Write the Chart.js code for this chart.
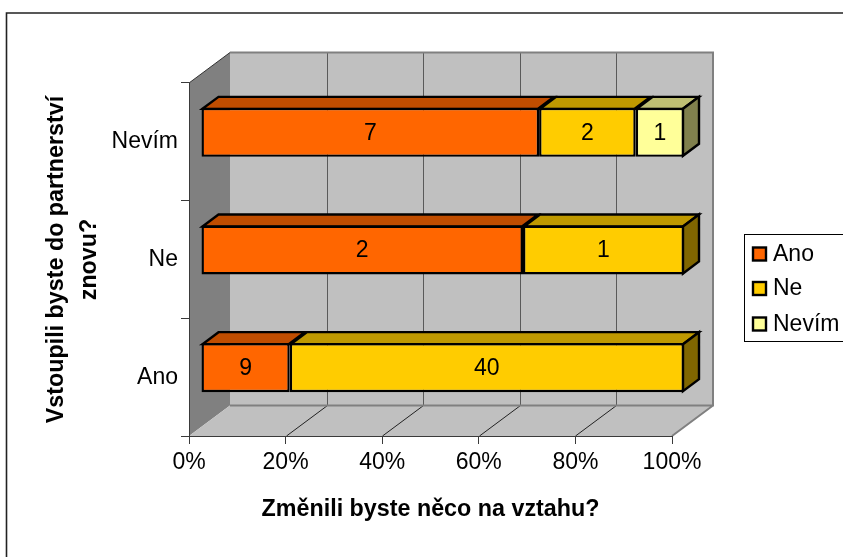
<!DOCTYPE html>
<html><head><meta charset="utf-8">
<style>html,body{margin:0;padding:0;background:#fff}canvas{display:block}</style>
<script src="https://cdn.jsdelivr.net/npm/chart.js@4"></script>
</head><body><canvas id="c" width="843" height="557"></canvas>
<script>
const categories = ['Ano','Ne','Nevím'];
const anoCounts = [9,2,7];
const neCounts = [40,1,2];
const nevimCounts = [0,0,1];
const seriesNames = ['Ano','Ne','Nevím'];
const xTitle = 'Změnili byste něco na vztahu?';
const yTitle = ['Vstoupili byste do partnerství','znovu?'];

const FONT = '"Liberation Sans", Arial, sans-serif';
const AX = '#3a3a3a';
const totals = categories.map((_,i)=>anoCounts[i]+neCounts[i]+nevimCounts[i]);
const share = arr => arr.map((v,i)=> v ? v/totals[i]*100 : null);
const WALL = {dx:41, dy:30.5};
const BAR = {ox:12, oy:9.5, dx:16, dy:12};

function poly(ctx, pts, fill, stroke, lw){
  ctx.beginPath();
  pts.forEach((p,i)=> i?ctx.lineTo(p[0],p[1]):ctx.moveTo(p[0],p[1]));
  ctx.closePath();
  if(fill){ctx.fillStyle=fill;ctx.fill();}
  if(stroke){ctx.strokeStyle=stroke;ctx.lineWidth=lw;ctx.lineJoin='miter';ctx.stroke();}
}
const box3d = {
  id:'box3d',
  beforeDraw(chart){
    const {ctx,chartArea:a,scales:{x}} = chart;
    const {dx,dy} = WALL;
    ctx.save();
    ctx.fillStyle='#fff';ctx.fillRect(0,0,chart.width,chart.height);
    ctx.strokeStyle='#222';ctx.lineWidth=1.6;
    ctx.beginPath();ctx.moveTo(6.5,557);ctx.lineTo(6.5,13);ctx.lineTo(843,13);ctx.stroke();
    poly(ctx,[[a.left,a.top],[a.left+dx,a.top-dy],[a.left+dx,a.bottom-dy],[a.left,a.bottom]],'#808080');
    poly(ctx,[[a.left+dx,a.top-dy],[a.right+dx,a.top-dy],[a.right+dx,a.bottom-dy],[a.left+dx,a.bottom-dy]],'#c0c0c0');
    poly(ctx,[[a.left,a.bottom],[a.left+dx,a.bottom-dy],[a.right+dx,a.bottom-dy],[a.right,a.bottom]],'#c0c0c0');
    [20,40,60,80].forEach(t=>{
      const px=Math.round(x.getPixelForValue(t))+0.5;
      ctx.strokeStyle='#5a5a5a';ctx.lineWidth=1;
      ctx.beginPath();ctx.moveTo(px+dx,a.top-dy);ctx.lineTo(px+dx,a.bottom-dy);ctx.stroke();
      ctx.strokeStyle='#222';
      ctx.beginPath();ctx.moveTo(px,a.bottom);ctx.lineTo(px+dx,a.bottom-dy);ctx.stroke();
    });
    ctx.strokeStyle='#808080';ctx.lineWidth=2;
    ctx.beginPath();
    ctx.moveTo(a.left+dx,a.top-dy);ctx.lineTo(a.right+dx,a.top-dy);ctx.lineTo(a.right+dx,a.bottom-dy);ctx.lineTo(a.left+dx,a.bottom-dy);
    ctx.moveTo(a.right+dx,a.bottom-dy);ctx.lineTo(a.right,a.bottom);
    ctx.stroke();
    ctx.strokeStyle='#333';ctx.lineWidth=1;
    ctx.beginPath();ctx.moveTo(a.left,a.top);ctx.lineTo(a.left+dx,a.top-dy);ctx.stroke();
    ctx.restore();
  },
  beforeDatasetsDraw(chart){
    const ctx=chart.ctx;
    ctx.save();
    ctx.translate(BAR.ox,-BAR.oy);
    const tops=['#c04d00','#bf9900','#bfbf73'], sides=['#803300','#806600','#80804d'];
    const last=categories.map((_,i)=>{let k=-1;chart.data.datasets.forEach((d,j)=>{if(d.data[i]!=null)k=j;});return k;});
    chart.data.datasets.forEach((d,j)=>{
      chart.getDatasetMeta(j).data.forEach((b,i)=>{
        if(d.data[i]==null)return;
        const L=b.base+1,R=b.x-1,T=b.y-b.height/2+1,B=b.y+b.height/2-1;
        poly(ctx,[[L,T],[L+BAR.dx,T-BAR.dy],[R+BAR.dx,T-BAR.dy],[R,T]],tops[j],'#000',2.4);
        if(last[i]===j) poly(ctx,[[R,T],[R+BAR.dx,T-BAR.dy],[R+BAR.dx,B-BAR.dy],[R,B]],sides[j],'#000',2.4);
      });
    });
  },
  afterDatasetsDraw(chart){
    const ctx=chart.ctx;
    const counts=[anoCounts,neCounts,nevimCounts];
    ctx.fillStyle='#000';ctx.font='23px '+FONT;ctx.textAlign='center';ctx.textBaseline='middle';
    chart.data.datasets.forEach((d,j)=>{
      chart.getDatasetMeta(j).data.forEach((b,i)=>{
        if(d.data[i]==null)return;
        ctx.fillText(String(counts[j][i]),(b.x+b.base)/2,b.y+1);
      });
    });
    ctx.restore();
    ctx.save();
    ctx.strokeStyle='#000';ctx.lineWidth=1;
    ctx.strokeRect(744.5,234.5,110,107);
    ctx.font='23px '+FONT;ctx.textAlign='left';ctx.textBaseline='middle';
    const ys=[254,288.5,324];
    chart.data.datasets.forEach((d,j)=>{
      ctx.fillStyle=d.backgroundColor;ctx.fillRect(753,ys[j]-6.5,13,13);
      ctx.strokeStyle='#000';ctx.lineWidth=2.4;ctx.strokeRect(753,ys[j]-6.5,13,13);
      ctx.fillStyle='#000';ctx.fillText(d.label,773,ys[j]+0.5);
    });
    ctx.restore();
  }
};
new Chart(document.getElementById('c'),{
  type:'bar',
  plugins:[box3d],
  data:{labels:categories,datasets:[
    {label:seriesNames[0],data:share(anoCounts),backgroundColor:'#ff6600'},
    {label:seriesNames[1],data:share(neCounts),backgroundColor:'#ffcc00'},
    {label:seriesNames[2],data:share(nevimCounts),backgroundColor:'#ffff99'}
  ].map(d=>Object.assign(d,{borderColor:'#000',borderWidth:2.4,borderSkipped:false,categoryPercentage:1,barPercentage:49/117.67}))},
  options:{
    indexAxis:'y',responsive:false,animation:false,
    layout:{padding:{left:40,right:171,top:83,bottom:33}},
    plugins:{legend:{display:false},tooltip:{enabled:false}},
    scales:{
      x:{stacked:true,min:0,max:100,
        afterFit(s){s.height=88;},
        grid:{drawOnChartArea:false,drawTicks:true,tickLength:8,color:AX},
        border:{color:AX,width:1},
        ticks:{stepSize:20,color:'#000',font:{family:FONT,size:23},padding:5,maxRotation:0,callback:v=>v+'%'},
        title:{display:true,text:xTitle,color:'#000',font:{family:FONT,size:23.3,weight:'bold'},padding:{top:16,bottom:0}}
      },
      y:{stacked:true,reverse:true,
        afterFit(s){s.width=149;},
        grid:{offset:true,drawOnChartArea:false,drawTicks:true,tickLength:8,color:AX},
        border:{color:AX,width:1},
        ticks:{color:'#000',font:{family:FONT,size:23},padding:3},
        title:{display:true,text:yTitle,color:'#000',font:{family:FONT,size:23.3,weight:'bold',lineHeight:1.42},padding:{top:0,bottom:0}}
      }
    }
  }
});
</script></body></html>
